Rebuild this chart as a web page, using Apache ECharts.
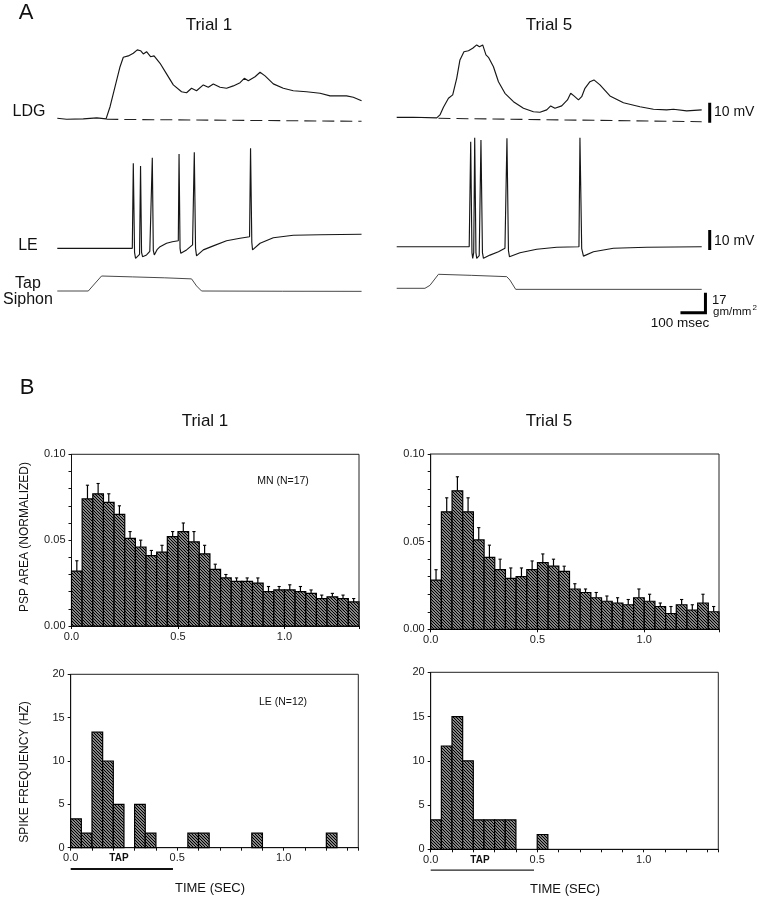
<!DOCTYPE html>
<html><head><meta charset="utf-8">
<script src="https://cdn.jsdelivr.net/npm/echarts@6/dist/echarts.min.js"></script>
<style>html,body{margin:0;padding:0;background:#fff}#chart{width:764px;height:900px}</style>
</head><body><div id="chart"></div>
<script>
// ================= DATA =================
// Panel A traces: [time (ms), value]; LDG & LE in mV relative to baseline, Tap in gm/mm^2
const traceTimeMax = 1280;
const ldgTrial1 = [[0,0],[37,-0.5],[104,-0.3],[158,0.2],[195,-0.3],[211,5.8],[231,15.8],[251,25.8],[264,30.5],[284,31.2],[304,32.5],[320,34.2],[333,33.8],[344,32.2],[357,33.3],[373,30.8],[387,31.2],[411,27.5],[437,22.2],[464,16.7],[497,13.3],[517,12.8],[537,15],[557,13.8],[584,16.7],[604,15.5],[624,17.2],[651,15.5],[677,15],[704,16.2],[731,17.8],[748,20],[764,18.8],[791,20.8],[811,23],[831,21.2],[864,17.2],[904,15],[944,13.8],[997,13.3],[1051,12.5],[1091,11.2],[1157,11.2],[1184,10.5],[1217,8.8]];
const ldgBaselineTrial1 = [[196,-0.5],[1217,-1.5]];
const leTrial1 = [[0,0],[150,0],[300,0],[304,42.5],[309,-2],[313,-5],[320,-4],[329,-3],[333,41.2],[337,-2],[341,-4.2],[357,-3.3],[370,-1.5],[376,-0.8],[380,45.3],[384,-1],[388,-3.3],[400,-0.5],[411,0.8],[437,2.5],[460,3.3],[484,3.8],[487,47.2],[491,0],[494,-2.5],[517,-0.8],[541,1.7],[545,2],[548,48],[553,0],[557,-3.8],[584,-0.8],[624,1.2],[677,3.8],[731,5],[769,5.8],[773,50],[778,3],[781,-0.8],[811,2.5],[864,5.3],[944,6.5],[1051,6.8],[1217,7]];
const tapTrial1 = [[0,0],[124,0],[145,5.1],[177,12.75],[300,12],[430,11.2],[537,10.3],[557,4.3],[577,0],[900,-0.2],[1217,-0.3]];

const ldgTrial5 = [[0,0],[67,0],[160,-0.3],[173,1.2],[187,5],[207,9.5],[224,11.2],[240,19.5],[253,28.7],[269,32.8],[287,33.3],[304,34.5],[320,36.2],[331,35.3],[344,36.2],[357,31.2],[367,30],[387,25.3],[407,17.8],[433,12],[467,7.8],[507,4.5],[547,2.8],[573,2.5],[600,3.7],[616,5.7],[633,4.5],[660,5.7],[683,8.7],[696,12],[709,10.7],[727,8.7],[740,10.3],[753,14.5],[773,17.8],[789,18.7],[813,16.2],[853,10.7],[907,7.3],[973,5.3],[1027,4],[1080,3.7],[1107,4],[1160,3.2],[1220,3.7]];
const ldgBaselineTrial5 = [[167,-0.5],[1220,-2.2]];
const leTrial5 = [[0,0],[290,0],[293,0.5],[296,52.5],[301,-3],[304,-5.8],[308,-3],[312,54.5],[317,-3],[320,-5.8],[330,-4.5],[334,-3.5],[337,53.3],[343,-3],[347,-5.8],[373,-4.2],[407,-2.5],[433,-0.8],[438,-0.5],[441,54.2],[447,-2],[451,-5],[493,-3],[560,-1.3],[640,-0.3],[729,0],[733,54.5],[740,-1],[747,-4.7],[787,-2.5],[867,-0.8],[1000,-0.3],[1220,0]];
const tapTrial5 = [[0,0],[113,0],[133,2.5],[167,11.9],[300,11],[440,9.9],[453,7],[476,-0.9],[1220,-0.9]];

// Scale bars (values in axis units): 10 mV, 10 mV, 17 gm/mm^2 x 100 msec
const ldgScaleBar = [[1252,-2.7],[1252,7.3]];
const leScaleBar = [[1252,-1.7],[1252,8.3]];
const tapScaleBar = [[1135,-20.7],[1235,-20.7],[1235,-3.7]];

// Panel B histograms: bins of 0.05 s starting at 0
const binWidth = 0.05;
const pspTrial1 = [0.032,0.074,0.077,0.072,0.065,0.051,0.046,0.041,0.043,0.052,0.055,0.049,0.042,0.033,0.028,0.026,0.026,0.025,0.020,0.021,0.021,0.020,0.019,0.016,0.017,0.016,0.014];
const pspErrTrial1 = [0.038,0.082,0.083,0.077,0.070,0.055,0.050,0.044,0.047,0.055,0.060,0.055,0.047,0.036,0.030,0.028,0.028,0.028,0.023,0.023,0.024,0.023,0.021,0.018,0.019,0.018,0.016];
const pspTrial5 = [0.028,0.067,0.079,0.067,0.051,0.041,0.034,0.029,0.030,0.034,0.038,0.036,0.033,0.023,0.021,0.018,0.016,0.015,0.014,0.018,0.016,0.013,0.009,0.014,0.011,0.015,0.010];
const pspErrTrial5 = [0.034,0.075,0.087,0.075,0.058,0.048,0.040,0.035,0.035,0.039,0.043,0.040,0.036,0.026,0.023,0.021,0.019,0.018,0.017,0.023,0.020,0.015,0.013,0.017,0.014,0.020,0.013];
const spikeTrial1 = [3.33,1.67,13.33,10,5,0,5,1.67,0,0,0,1.67,1.67,0,0,0,0,1.67,0,0,0,0,0,0,1.67,0,0];
const spikeTrial5 = [3.33,11.67,15,10,3.33,3.33,3.33,3.33,0,0,1.67,0,0,0,0,0,0,0,0,0,0,0,0,0,0,0,0];
const tapWindowTrial1 = [0, 0.48];
const tapWindowTrial5 = [0, 0.485];

const timeTickLabels = [0.0, 0.5, 1.0];
const pspTickLabels = [0.00, 0.05, 0.10];
const spikeTickLabels = [0, 5, 10, 15, 20];
const timeMax = 1.35;

// ================= BUILD =================
const FONT = '"Liberation Sans", Arial, Helvetica, sans-serif';
const INK = '#161616';

function makeHatch() {
  const c = document.createElement('canvas');
  c.width = 6; c.height = 6;
  const g = c.getContext('2d');
  g.fillStyle = '#fff'; g.fillRect(0, 0, 6, 6);
  g.strokeStyle = '#000'; g.lineWidth = 1.35;
  for (let k = -3; k <= 3; k++) {
    g.beginPath(); g.moveTo(3 * k - 2, -2); g.lineTo(3 * k + 8, 8); g.stroke();
  }
  return c;
}
const hatch = { image: makeHatch(), repeat: 'repeat' };

const grids = [], xAxes = [], yAxes = [], series = [];

function addTraceGrid(left, baselineY, ymin, ymax, pxPerUnit) {
  const gi = grids.length;
  grids.push({ left: left, top: baselineY - ymax * pxPerUnit, width: traceTimeMax * 0.25,
    height: (ymax - ymin) * pxPerUnit, outerBoundsMode: 'none', containLabel: false });
  xAxes.push({ gridIndex: gi, type: 'value', min: 0, max: traceTimeMax, show: false });
  yAxes.push({ gridIndex: gi, type: 'value', min: ymin, max: ymax, show: false });
  return gi;
}
function addLine(gi, data, style) {
  series.push({ type: 'line', xAxisIndex: gi, yAxisIndex: gi, data: data,
    symbol: 'none', clip: false, animation: false, silent: true, lineStyle: style });
}
const traceStyle = { color: INK, width: 1.15 };
const tapStyle = { color: '#333', width: 0.9 };
const dashStyle = { color: '#222', width: 1.1, type: [12, 6] };
const barStyle = { color: '#000', width: 3, cap: 'butt', join: 'miter' };

// Trial 1 traces
let g = addTraceGrid(57.3, 118.3, -5, 40, 2);
addLine(g, ldgTrial1, traceStyle); addLine(g, ldgBaselineTrial1, dashStyle);
g = addTraceGrid(57.3, 248.3, -10, 60, 2);
addLine(g, leTrial1, traceStyle);
g = addTraceGrid(57.3, 291, -25, 20, 20 / 17);
addLine(g, tapTrial1, tapStyle);
// Trial 5 traces
g = addTraceGrid(396.7, 117.3, -5, 40, 2);
addLine(g, ldgTrial5, traceStyle); addLine(g, ldgBaselineTrial5, dashStyle); addLine(g, ldgScaleBar, barStyle);
g = addTraceGrid(396.7, 246.7, -10, 60, 2);
addLine(g, leTrial5, traceStyle); addLine(g, leScaleBar, barStyle);
g = addTraceGrid(396.7, 288.3, -25, 20, 20 / 17);
addLine(g, tapTrial5, tapStyle); addLine(g, tapScaleBar, barStyle);

// Histograms
const near = (v, arr) => arr.some(a => Math.abs(a - v) < 1e-6);
function addHistGrid(left, top, width, height, yMax, yInterval, yLabels, yFmt, minorX) {
  const gi = grids.length;
  grids.push({ left, top, width, height, show: true, borderColor: '#222', borderWidth: 1,
    outerBoundsMode: 'none', containLabel: false });
  xAxes.push({ gridIndex: gi, type: 'value', min: 0, max: timeMax, interval: minorX ? 0.1 : 0.5,
    axisLine: { show: true, onZero: false, lineStyle: { color: '#111', width: 1 } },
    axisTick: { show: true, length: 3, lineStyle: { color: '#111' } },
    splitLine: { show: false },
    axisLabel: { margin: 5, fontSize: 11, fontFamily: FONT, color: '#1a1a1a',
      formatter: v => near(v, timeTickLabels) ? v.toFixed(1) : '' } });
  yAxes.push({ gridIndex: gi, type: 'value', min: 0, max: yMax, interval: yInterval,
    axisLine: { show: true, lineStyle: { color: '#111', width: 1 } },
    axisTick: { show: true, length: 3, lineStyle: { color: '#111' } },
    splitLine: { show: false },
    axisLabel: { margin: 6, fontSize: 11, fontFamily: FONT, color: '#1a1a1a',
      formatter: v => near(v, yLabels) ? yFmt(v) : '' } });
  return gi;
}
function binData(values, errs) {
  return values.map((v, i) => errs ? [i * binWidth, (i + 1) * binWidth, v, errs[i]] : [i * binWidth, (i + 1) * binWidth, v]);
}
function renderBar(params, api) {
  const v = api.value(2);
  if (!(v > 0)) return null;
  const a = api.coord([api.value(0), v]);
  const b = api.coord([api.value(1), 0]);
  return { type: 'rect', shape: { x: a[0], y: a[1], width: b[0] - a[0], height: b[1] - a[1] },
    style: { fill: hatch, stroke: '#000', lineWidth: 1.2 } };
}
function renderErr(params, api) {
  const xm = (api.value(0) + api.value(1)) / 2;
  const a = api.coord([xm, api.value(2)]);
  const b = api.coord([xm, api.value(3)]);
  return { type: 'group', children: [
    { type: 'line', shape: { x1: a[0], y1: a[1], x2: b[0], y2: b[1] }, style: { stroke: '#000', lineWidth: 1.2 } },
    { type: 'line', shape: { x1: b[0] - 1.6, y1: b[1], x2: b[0] + 1.6, y2: b[1] }, style: { stroke: '#000', lineWidth: 1.1 } }
  ] };
}
function addBars(gi, values, errs) {
  series.push({ type: 'custom', xAxisIndex: gi, yAxisIndex: gi, renderItem: renderBar,
    data: binData(values), animation: false, silent: true, clip: false });
  if (errs) series.push({ type: 'custom', xAxisIndex: gi, yAxisIndex: gi, renderItem: renderErr,
    data: binData(values, errs), animation: false, silent: true, clip: false });
}
const pspFmt = v => v.toFixed(2);
const spikeFmt = v => String(Math.round(v));

g = addHistGrid(71.5, 454.3, 287.5, 171.7, 0.10, 0.01, pspTickLabels, pspFmt, false);
addBars(g, pspTrial1, pspErrTrial1);
g = addHistGrid(430.7, 454, 288.3, 175.3, 0.10, 0.01, pspTickLabels, pspFmt, false);
addBars(g, pspTrial5, pspErrTrial5);
g = addHistGrid(70.7, 674.3, 287.6, 173.4, 20, 5, spikeTickLabels, spikeFmt, true);
addBars(g, spikeTrial1, null);
addLine(g, tapWindowTrial1.map(t => [t, -2.45]), { color: '#111', width: 2 });
g = addHistGrid(430.7, 672.3, 287.6, 177, 20, 5, spikeTickLabels, spikeFmt, true);
addBars(g, spikeTrial5, null);
addLine(g, tapWindowTrial5.map(t => [t, -2.35]), { color: '#222', width: 1.1 });

// Text
function txt(text, x, y, size, opts) {
  opts = opts || {};
  const align = opts.align || 'center';
  return { type: 'text', x: x, y: y, rotation: opts.rotation || 0, silent: true,
    style: { text: text, fill: opts.color || '#111', font: (opts.weight || 'normal') + ' ' + size + 'px ' + FONT,
      align: align, verticalAlign: 'middle', textAlign: align, textVerticalAlign: 'middle' } };
}
const graphic = [
  txt('A', 26, 13, 22),
  txt('Trial 1', 209, 25, 17),
  txt('Trial 5', 549, 25, 17),
  txt('LDG', 29, 112, 16),
  txt('LE', 28, 246, 16),
  txt('Tap', 28, 284, 16),
  txt('Siphon', 28, 300, 16),
  txt('10 mV', 714, 112.5, 14, { align: 'left' }),
  txt('10 mV', 714, 241, 14, { align: 'left' }),
  txt('17', 712, 300, 13, { align: 'left' }),
  txt('gm/mm', 713, 312, 11.5, { align: 'left' }),
  txt('2', 752.5, 307.5, 8, { align: 'left' }),
  txt('100 msec', 680, 323, 13.5),
  txt('B', 27, 388, 22),
  txt('Trial 1', 205, 421, 17),
  txt('Trial 5', 549, 421, 17),
  txt('PSP AREA (NORMALIZED)', 25, 537, 12, { rotation: Math.PI / 2 }),
  txt('SPIKE FREQUENCY (HZ)', 25, 772, 12, { rotation: Math.PI / 2 }),
  txt('MN (N=17)', 283, 481, 10.5),
  txt('LE (N=12)', 283, 702, 10.5),
  txt('TAP', 119, 858, 10, { weight: 'bold' }),
  txt('TAP', 480, 860, 10, { weight: 'bold' }),
  txt('TIME (SEC)', 210, 888, 13),
  txt('TIME (SEC)', 565, 889, 13)
];

const chart = echarts.init(document.getElementById('chart'), null, { renderer: 'canvas' });
chart.setOption({
  backgroundColor: '#fff',
  animation: false,
  grid: grids, xAxis: xAxes, yAxis: yAxes, series: series, graphic: graphic
});
</script></body></html>
